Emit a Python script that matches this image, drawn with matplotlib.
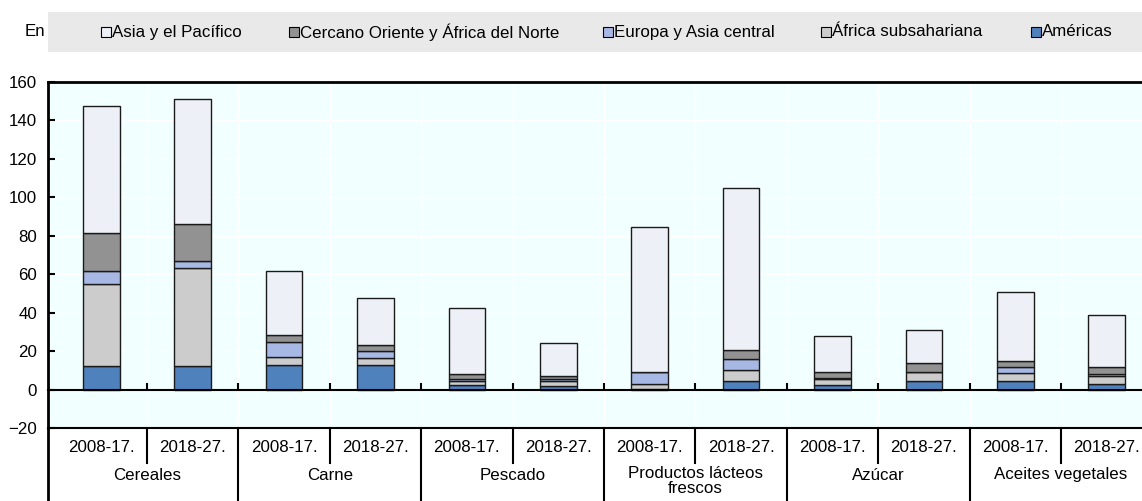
import matplotlib
matplotlib.use("Agg")
import matplotlib.pyplot as plt
from matplotlib.patches import Rectangle
import numpy as np

plt.rcParams['font.family'] = ['Liberation Sans', 'DejaVu Sans']

categories = ['Cereales', 'Carne', 'Pescado', 'Productos lácteos\nfrescos', 'Azúcar', 'Aceites vegetales']
periods = ['2008-17.', '2018-27.']

# values per bar: (category, period) order
americas = [12.0, 12.5, 13.0, 12.6, 2.3, 1.9, 0.3, 4.3, 2.4, 4.7, 4.2, 2.9]
ssa      = [43.0, 50.8, 4.0, 3.9, 2.4, 2.3, 2.7, 5.9, 3.2, 4.3, 4.4, 4.4]
europe   = [6.5, 3.7, 7.8, 3.4, 0.6, 1.3, 6.0, 5.7, 0.6, 0.3, 3.2, 1.0]
nena     = [20.0, 19.0, 3.8, 3.4, 2.6, 1.4, 0.0, 4.9, 3.1, 4.5, 3.1, 3.5]
asia     = [66.0, 65.3, 32.9, 24.3, 34.6, 17.1, 75.5, 84.0, 18.8, 17.0, 35.6, 27.0]

series_names = ['Asia y el Pacífico', 'Cercano Oriente y África del Norte',
                'Europa y Asia central', 'África subsahariana', 'Américas']
series_vals = [asia, nena, europe, ssa, americas]
series_cols = ['#EEF0F8', '#929292', '#A7B8E4', '#CCCCCC', '#4F81BD']

W, H = 1142, 501
fig = plt.figure(figsize=(W / 100, H / 100), dpi=100)

left_px, right_px, top_px, bot_px = 48, 1160, 82, 428
ax = fig.add_axes([left_px / W, (H - bot_px) / H, (right_px - left_px) / W, (bot_px - top_px) / H])
ax.set_facecolor('#F2FFFF')

n = len(categories) * len(periods)
x = np.arange(n)
pad = 0.083
ax.set_xlim(-0.5 - pad, n - 0.5 + pad)
ax.set_ylim(-20, 160)

# stacked bars, bottom to top: Américas, SSA, Europe, NENA, Asia
order = [4, 3, 2, 1, 0]
bottom = np.zeros(n)
for idx in order:
    vals = np.array(series_vals[idx])
    ax.bar(x, vals, width=0.4, bottom=bottom, color=series_cols[idx],
           edgecolor='#1a1a1a', linewidth=1.0, zorder=3)
    bottom += vals

# axes styling
ax.spines['right'].set_visible(False)
ax.spines['top'].set_linewidth(2.0)
ax.spines['left'].set_linewidth(2.0)
ax.spines['bottom'].set_position(('data', 0))
ax.spines['bottom'].set_linewidth(1.5)
ax.spines['bottom'].set_zorder(4)

fs = 12.2
ax.set_yticks(np.arange(-20, 161, 20))
ax.tick_params(axis='y', direction='in', length=5, width=1.5, labelsize=fs, pad=8)
ax.set_xticks(np.arange(n - 1) + 0.5)
ax.tick_params(axis='x', direction='in', length=5, width=1.5, labelbottom=False)
ax.grid(True, color='white', linewidth=1.0, zorder=0)
ax.set_axisbelow(True)

# bottom border at -20
ax.axhline(-20, color='black', linewidth=1.5, clip_on=False, zorder=5)

# category label area below the axes
xt = ax.get_xaxis_transform()
h_ax = bot_px - top_px
y_year = -(447 - bot_px) / h_ax
y_group = -(475 - bot_px) / h_ax
y_short = -(463 - bot_px) / h_ax
y_long = -(H - bot_px + 5) / h_ax
for i in range(n):
    ax.text(x[i], y_year, periods[i % 2], transform=xt, ha='center', va='center', fontsize=fs)
for g, cat in enumerate(categories):
    c = 2 * g + 0.5
    if '\n' in cat:
        ax.text(c, -(466 - bot_px) / h_ax, cat, transform=xt, ha='center', va='top',
                fontsize=fs, linespacing=1.0)
    else:
        ax.text(c, y_group, cat, transform=xt, ha='center', va='center', fontsize=fs)
for b in range(n - 1):
    xb = b + 0.5
    y2 = y_short if b % 2 == 0 else y_long
    ax.plot([xb, xb], [0, y2], transform=xt, color='black', linewidth=1.5, clip_on=False)
ax.plot([-0.5 - pad, -0.5 - pad], [0, y_long], transform=xt, color='black', linewidth=2.0, clip_on=False)

# legend band
fig.patches.append(Rectangle((left_px / W, (H - 52) / H), (W - left_px) / W, 40 / H,
                             transform=fig.transFigure, facecolor='#E9E9E9', edgecolor='none'))
y_leg = (H - 32) / H
fig.text(35 / W, y_leg, 'En', ha='center', va='center', fontsize=fs)
leg_x = [106, 294, 608, 826, 1036]
for xs, name, col in zip(leg_x, series_names, series_cols):
    sq = 10
    fig.patches.append(Rectangle(((xs - sq / 2) / W, (H - 32 - sq / 2) / H), sq / W, sq / H,
                                 transform=fig.transFigure, facecolor=col,
                                 edgecolor='black', linewidth=0.8))
    fig.text((xs + 6) / W, y_leg, name, ha='left', va='center', fontsize=fs)

fig.savefig('out.png', dpi=100)
